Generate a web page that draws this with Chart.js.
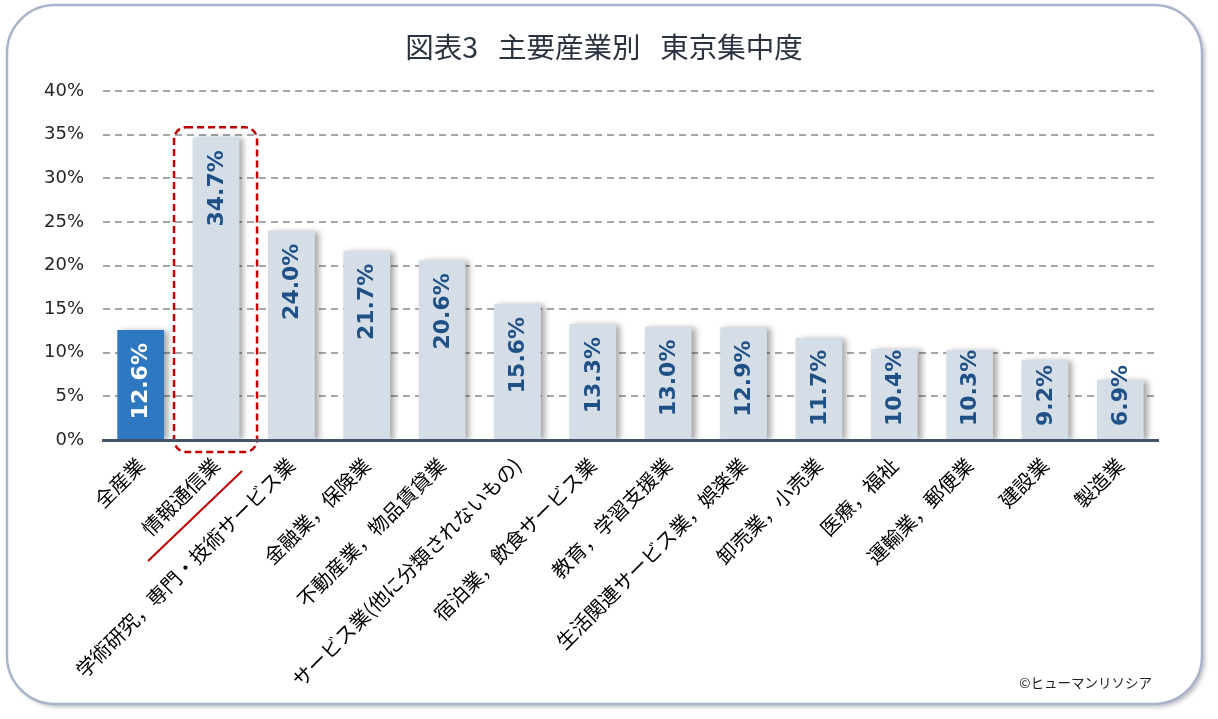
<!DOCTYPE html>
<html lang="ja">
<head>
<meta charset="utf-8">
<script src="https://cdn.jsdelivr.net/npm/chart.js@4.4.0/dist/chart.umd.min.js"></script>
<style>
  html, body { margin: 0; padding: 0; background: #fff; }
  #wrap { width: 1218px; height: 719px; position: relative; }
</style>
</head>
<body>
<div id="wrap"><canvas id="chart"></canvas></div>
<script>
// データ
const categories = [
  '全産業', '情報通信業', '学術研究，専門・技術サービス業', '金融業，保険業',
  '不動産業，物品賃貸業', 'サービス業(他に分類されないもの)', '宿泊業，飲食サービス業',
  '教育，学習支援業', '生活関連サービス業，娯楽業', '卸売業，小売業', '医療，福祉',
  '運輸業，郵便業', '建設業', '製造業'
];
const shares = [12.6, 34.7, 24.0, 21.7, 20.6, 15.6, 13.3, 13.0, 12.9, 11.7, 10.4, 10.3, 9.2, 6.9];
const yTicks = [0, 5, 10, 15, 20, 25, 30, 35, 40];
const highlightIndex = 1;

const titleText = '図表3\u2002\u2009主要産業別\u2002\u2009東京集中度';
const creditText = '©ヒューマンリソシア';

const BLUE = '#2e78c2';
const GRAY_BAR = '#d5dee7';
const LABEL_BLUE = '#1f5186';
const JP_FONT = '"Noto Sans CJK JP", "Noto Sans", sans-serif';

const roundRect = (ctx, x, y, w, h, r) => {
  ctx.beginPath();
  ctx.moveTo(x + r, y);
  ctx.lineTo(x + w - r, y);
  ctx.arcTo(x + w, y, x + w, y + r, r);
  ctx.lineTo(x + w, y + h - r);
  ctx.arcTo(x + w, y + h, x + w - r, y + h, r);
  ctx.lineTo(x + r, y + h);
  ctx.arcTo(x, y + h, x, y + h - r, r);
  ctx.lineTo(x, y + r);
  ctx.arcTo(x, y, x + r, y, r);
  ctx.closePath();
};

// 外枠、タイトル、クレジット
const framePlugin = {
  id: 'frame',
  beforeDraw(chart) {
    const ctx = chart.ctx;
    ctx.save();
    ctx.fillStyle = '#fff';
    ctx.fillRect(0, 0, chart.width, chart.height);
    ctx.shadowColor = 'rgba(60,70,90,0.35)';
    ctx.shadowBlur = 4;
    ctx.shadowOffsetX = 3;
    ctx.shadowOffsetY = 3;
    roundRect(ctx, 7, 5, 1195, 699, 48);
    ctx.fillStyle = '#fff';
    ctx.fill();
    ctx.shadowColor = 'transparent';
    ctx.lineWidth = 2.5;
    ctx.strokeStyle = '#a8b4c9';
    ctx.stroke();

    ctx.font = '28.5px ' + JP_FONT;
    ctx.fillStyle = '#2b3340';
    ctx.textAlign = 'center';
    ctx.textBaseline = 'middle';
    ctx.fillText(titleText, 604, 47);
    ctx.restore();
  },
  afterDraw(chart) {
    const ctx = chart.ctx;
    ctx.save();
    ctx.font = '13.5px ' + JP_FONT;
    ctx.fillStyle = '#222';
    ctx.textAlign = 'right';
    ctx.textBaseline = 'middle';
    ctx.fillText(creditText, 1152, 683);
    ctx.restore();
  }
};

// 棒の影、数値ラベル、強調枠
const barDecor = {
  id: 'barDecor',
  beforeDatasetsDraw(chart) {
    const ctx = chart.ctx;
    ctx.save();
    ctx.shadowColor = 'rgba(0,0,0,0.35)';
    ctx.shadowBlur = 6;
    ctx.shadowOffsetX = 4;
    ctx.shadowOffsetY = 1;
  },
  afterDatasetsDraw(chart) {
    const ctx = chart.ctx;
    ctx.restore();
    const meta = chart.getDatasetMeta(0);

    meta.data.forEach((bar, i) => {
      const text = shares[i].toFixed(1) + '%';
      ctx.save();
      ctx.font = 'bold 22px "DejaVu Sans", Verdana, sans-serif';
      const w = ctx.measureText(text).width;
      let bottom = bar.y + 13 + w;
      if (bottom > bar.base - 13) bottom = bar.base - 13;
      ctx.translate(bar.x + 1, bottom);
      ctx.rotate(-Math.PI / 2);
      ctx.textAlign = 'left';
      ctx.textBaseline = 'middle';
      ctx.fillStyle = i === 0 ? '#fff' : LABEL_BLUE;
      ctx.fillText(text, 0, 0);
      ctx.restore();
    });

    // 情報通信業の破線枠と下線
    const hb = meta.data[highlightIndex];
    ctx.save();
    ctx.strokeStyle = '#c00000';
    ctx.lineWidth = 2.5;
    ctx.setLineDash([7, 4]);
    roundRect(ctx, hb.x - 42, hb.y - 10, 83, hb.base - hb.y + 23, 12);
    ctx.stroke();
    ctx.setLineDash([]);
    ctx.lineWidth = 2;
    ctx.beginPath();
    ctx.moveTo(hb.x - 68, hb.base + 122);
    ctx.lineTo(hb.x + 26, hb.base + 32);
    ctx.stroke();
    ctx.restore();
  }
};

new Chart(document.getElementById('chart'), {
  type: 'bar',
  data: {
    labels: categories,
    datasets: [{
      data: shares,
      backgroundColor: categories.map((c, i) => i === 0 ? BLUE : GRAY_BAR),
      borderWidth: 0,
      barPercentage: 0.62,
      categoryPercentage: 1
    }]
  },
  options: {
    responsive: true,
    maintainAspectRatio: false,
    animation: false,
    layout: { padding: { top: 91, left: 0, right: 60, bottom: 0 } },
    plugins: {
      legend: { display: false },
      tooltip: { enabled: false },
      title: { display: false }
    },
    scales: {
      x: {
        grid: { display: false, drawTicks: false },
        border: { display: true, color: '#44546a', width: 3, z: 1 },
        ticks: {
          color: '#000',
          font: { family: JP_FONT, size: 20 },
          maxRotation: 45,
          minRotation: 45,
          autoSkip: false,
          padding: 13
        },
        afterFit(scale) { scale.height = 279; }
      },
      y: {
        min: 0,
        max: 40,
        afterBuildTicks(scale) { scale.ticks = yTicks.map(v => ({ value: v })); },
        grid: { color: '#a6a6a6', lineWidth: 2, drawTicks: false },
        border: { display: false, dash: [7, 5] },
        ticks: {
          color: '#262626',
          font: { family: '"DejaVu Sans", sans-serif', size: 18 },
          padding: 19,
          callback: v => v + '%'
        },
        afterFit(scale) { scale.width = 103; }
      }
    }
  },
  plugins: [framePlugin, barDecor]
});
</script>
</body>
</html>
